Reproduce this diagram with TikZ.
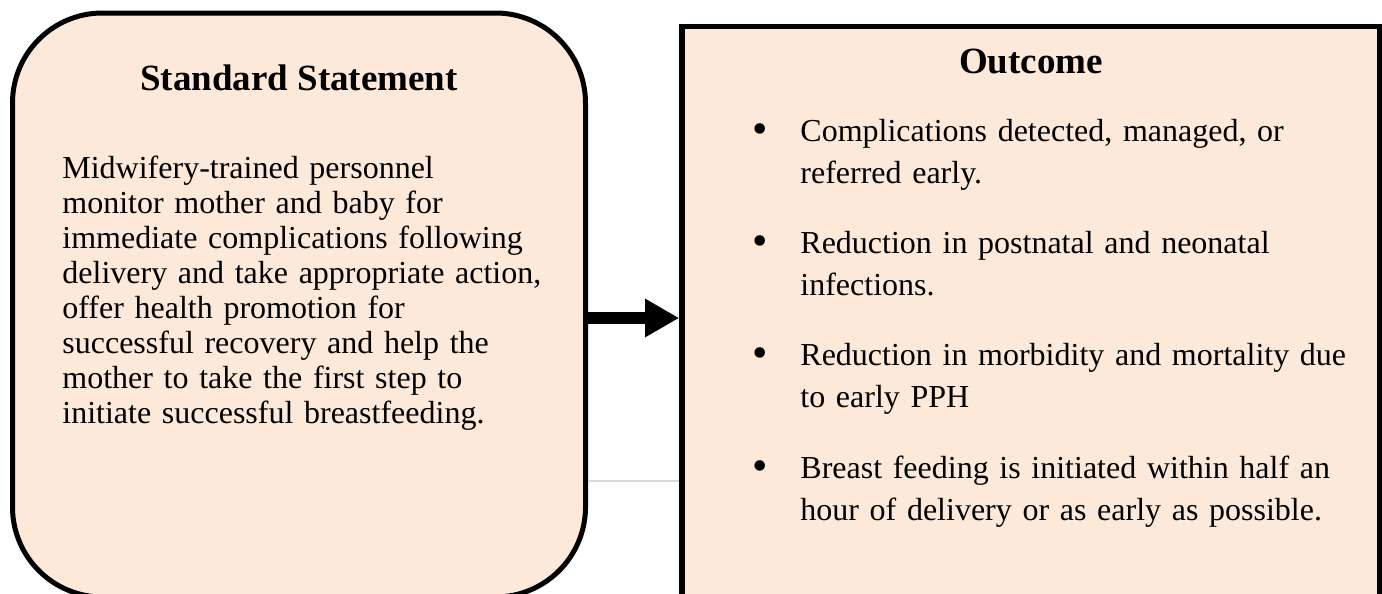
\documentclass[tikz,border=0pt]{standalone}
\usepackage{fontspec}
\setmainfont{Liberation Serif}
\usetikzlibrary{arrows.meta}
\definecolor{peach}{HTML}{FDE9D9}
\definecolor{rulegray}{HTML}{D9D9D9}
\begin{document}
\begin{tikzpicture}[x=0.5pt,y=-0.5pt,
  panel/.style={draw=black, fill=peach, inner sep=0pt},
  heading/.style={font=\bfseries\fontsize{18.5}{22}\selectfont, anchor=base, inner sep=0pt},
  bodytext/.style={font=\fontsize{16}{17.5}\selectfont, text width=250pt, align=left, anchor=base west, inner sep=0pt},
  itemtext/.style={font=\fontsize{16}{21}\selectfont, text width=285pt, align=left, anchor=base west, inner sep=0pt},
  bulletmark/.style={font=\fontsize{22}{22}\selectfont, anchor=base, inner sep=0pt},
  flow/.style={line width=6pt, -{Triangle[length=17pt,width=18pt]}},
  faintrule/.style={draw=rulegray, line width=0.75pt},
]
\useasboundingbox (0,0) rectangle (1382,594);
\clip (0,0) rectangle (1382,594);

% the two panels
\node[panel, line width=2.5pt, rounded corners=45pt, minimum width=286.5pt,
      minimum height=292pt, anchor=north west] (std) at (10,10.5) {};
\node[panel, line width=2.8pt, minimum width=349pt, minimum height=307pt,
      anchor=north west] (out) at (679.2,23.7) {};

% connector between the panels and the thin rule below it
\coordinate (arrowlevel) at (0,318);
\coordinate (rulelevel) at (0,481);
\draw[faintrule] (std.east |- rulelevel) -- (out.west |- rulelevel);
\draw[flow] (std.east |- arrowlevel) -- (out.west |- arrowlevel);

% left panel text
\node[heading] (stdtitle) at (299,90) {Standard Statement};
\node[bodytext] (stdbody) at (62,178) {Midwifery-trained personnel\\monitor mother and baby for\\immediate complications following\\delivery and take appropriate action,\\offer health promotion for\\successful recovery and help the\\mother to take the first step to\\initiate successful breastfeeding.};

% right panel text
\node[heading] (outtitle) at (1031,73) {Outcome};
\node[bulletmark] (b1) at (760,143) {•};
\node[bulletmark] (b2) at (760,255) {•};
\node[bulletmark] (b3) at (760,367) {•};
\node[bulletmark] (b4) at (760,480) {•};
\node[itemtext] (i1) at (800,141) {Complications detected, managed, or\\referred early.};
\node[itemtext] (i2) at (800,253) {Reduction in postnatal and neonatal\\infections.};
\node[itemtext] (i3) at (800,365) {Reduction in morbidity and mortality due\\to early PPH};
\node[itemtext] (i4) at (800,478) {Breast feeding is initiated within half an\\hour of delivery or as early as possible.};
\end{tikzpicture}
\end{document}
